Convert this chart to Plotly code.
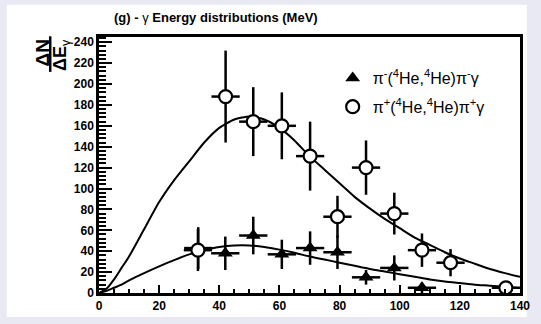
import plotly.graph_objects as go

# ---- data ----
energy_pim = [33.0, 42.0, 51.3, 60.8, 70.2, 79.3, 88.8, 98.2, 107.4]
counts_pim = [43, 38, 55, 37, 43, 39, 15, 24, 5]
err_pim = [20, 16, 18, 14, 16, 16, 7, 12, 5]

energy_pip = [32.9, 42.1, 51.3, 60.8, 70.2, 79.3, 88.8, 98.2, 107.4, 116.9, 135.3]
counts_pip = [41, 188, 164, 160, 131, 73, 120, 76, 41, 29, 5]
err_pip = [20, 44, 33, 32, 33, 20, 26, 20, 16, 13, 3]

x_half_width = 4.7

fit_x = [0, 2.5, 5, 7.5, 10, 15, 20, 25, 30, 35, 40, 45, 50, 55, 60, 65, 70, 75, 80, 85, 90,
         95, 100, 105, 110, 115, 120, 125, 130, 135, 140]
fit_y_pip = [0, 4, 13, 24, 35, 61, 87, 108, 126, 144, 158, 166, 169, 166, 158, 146, 131, 118, 105, 92, 81,
             71, 62, 53, 46, 39, 33, 28, 23, 19, 15.5]
fit_y_pim = [0, 2, 5, 8, 12, 19, 25.5, 31.5, 37, 41, 44, 45.5, 45.5, 44, 41.5, 38.5, 35, 32, 29, 26, 23,
             20.5, 18, 15.5, 13, 11, 9.5, 8, 7, 5.8, 4.7]

x_ticks = [0, 20, 40, 60, 80, 100, 120, 140]
y_ticks = [0, 20, 40, 60, 80, 100, 120, 140, 160, 180, 200, 220, 240]

title_text = "<b>(g) - </b>γ<b> Energy distributions (MeV)</b>"
label_pim = "π<sup>-</sup>(<sup>4</sup>He,<sup>4</sup>He)π<sup>-</sup>γ"
label_pip = "π<sup>+</sup>(<sup>4</sup>He,<sup>4</sup>He)π<sup>+</sup>γ"

# ---- layout geometry (pixels) ----
W, H = 541, 324
L, R, T, B = 98.5, 530.0, 36.7, 295.7

fig = go.Figure()

fig.add_trace(go.Scatter(x=fit_x, y=fit_y_pip, mode="lines",
                         line=dict(color="black", width=2, shape="spline", smoothing=0.6),
                         showlegend=False, hoverinfo="skip"))
fig.add_trace(go.Scatter(x=fit_x, y=fit_y_pim, mode="lines",
                         line=dict(color="black", width=2, shape="spline", smoothing=0.6),
                         showlegend=False, hoverinfo="skip"))

fig.add_trace(go.Scatter(
    x=energy_pim, y=counts_pim, mode="markers", name=label_pim, legendgroup="a",
    marker=dict(symbol="triangle-up", size=13, color="black"),
    error_y=dict(type="data", array=err_pim, color="black", thickness=2.5, width=0),
    error_x=dict(type="constant", value=x_half_width, color="black", thickness=2.5, width=0),
))
fig.add_trace(go.Scatter(
    x=energy_pip, y=counts_pip, mode="markers", name=label_pip, legendgroup="b",
    marker=dict(symbol="circle", size=13, color="white", line=dict(color="black", width=2.2)),
    error_y=dict(type="data", array=err_pip, color="black", thickness=2.5, width=0),
    error_x=dict(type="constant", value=x_half_width, color="black", thickness=2.5, width=0),
))

pw = R - L
ph = B - T
def px2x(p):
    return (p - L) / pw
def py2y(p):
    return (B - p) / ph

shapes = [
    dict(type="rect", xref="paper", yref="paper", x0=px2x(4), x1=px2x(537), y0=py2y(320), y1=py2y(4),
         fillcolor="white", line=dict(width=0), layer="below"),
    dict(type="line", xref="paper", yref="paper", x0=px2x(48.5), x1=px2x(48.5), y0=py2y(36), y1=py2y(72),
         line=dict(color="black", width=2.5)),
]

annotations = [
    dict(text=title_text, xref="paper", yref="paper", x=px2x(218), y=py2y(17), showarrow=False,
         font=dict(family="Liberation Sans, Arial", size=13, color="black"), xanchor="center", yanchor="middle"),
    dict(text="<b>ΔN</b>", xref="paper", yref="paper", x=px2x(40.5), y=py2y(53), showarrow=False, textangle=-90,
         font=dict(family="Liberation Sans, Arial", size=19, color="black"), xanchor="center", yanchor="middle"),
    dict(text="<b>ΔE</b><sub>γ</sub>", xref="paper", yref="paper", x=px2x(59.5), y=py2y(55), showarrow=False, textangle=-90,
         font=dict(family="Liberation Sans, Arial", size=18, color="black"), xanchor="center", yanchor="middle"),
]

axis_font = dict(family="Liberation Sans, Arial", size=12, color="black")

fig.update_layout(
    width=W, height=H,
    margin=dict(l=L, r=W - R, t=T, b=H - B, pad=0),
    paper_bgcolor="#e9e9f3", plot_bgcolor="white",
    shapes=shapes, annotations=annotations,
    showlegend=True,
    legend=dict(x=px2x(338), y=py2y(61), xanchor="left", yanchor="top", bgcolor="rgba(0,0,0,0)",
                font=dict(family="Liberation Sans, Arial", size=16, color="black"), tracegroupgap=5),
    xaxis=dict(range=[0, 140], tickvals=x_ticks, ticktext=[f"<b>{v}</b>" for v in x_ticks],
               ticks="inside", ticklen=8, tickwidth=2, tickcolor="black",
               minor=dict(dtick=5, ticks="inside", ticklen=4, tickwidth=2, tickcolor="black"),
               showline=True, linecolor="black", linewidth=2.5, mirror=True, showgrid=False, zeroline=False,
               tickfont=axis_font),
    yaxis=dict(range=[0, 245], tickvals=y_ticks, ticktext=[f"<b>{v}</b>" for v in y_ticks],
               ticks="inside", ticklen=13, tickwidth=2, tickcolor="black",
               minor=dict(dtick=4, ticks="inside", ticklen=7, tickwidth=2, tickcolor="black"),
               showline=True, linecolor="black", linewidth=2.5, mirror=True, showgrid=False, zeroline=False,
               tickfont=axis_font),
)

fig.write_html("out.html")
